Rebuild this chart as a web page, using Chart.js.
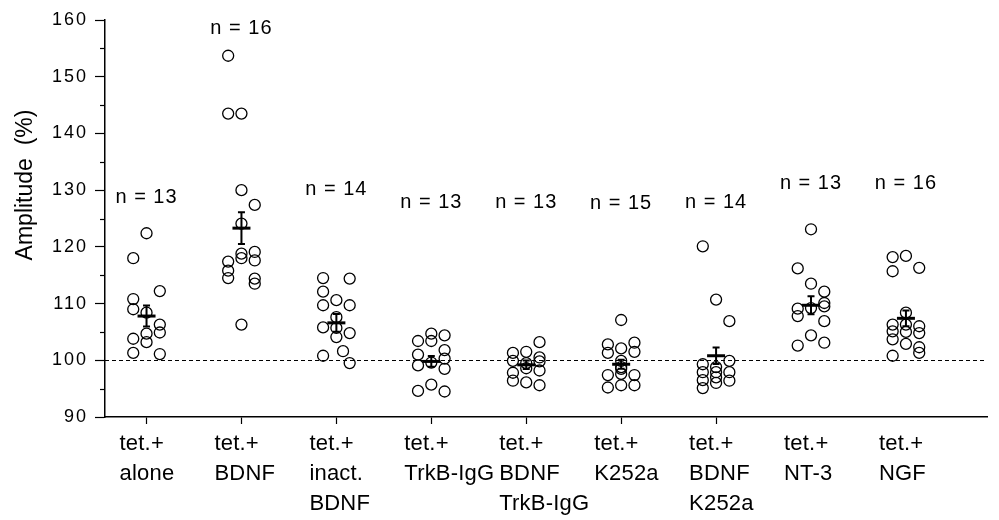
<!DOCTYPE html>
<html><head><meta charset="utf-8">
<script src="https://cdn.jsdelivr.net/npm/chart.js@4.4.1/dist/chart.umd.min.js"></script>
<style>html,body{margin:0;padding:0;background:#fff}</style>
</head><body>
<canvas id="c" width="999" height="520"></canvas>
<script>
// ---- data ----
const categories = [
  ["tet.+", "alone"],
  ["tet.+", "BDNF"],
  ["tet.+", "inact.", "BDNF"],
  ["tet.+", "TrkB-IgG"],
  ["tet.+", "BDNF", "TrkB-IgG"],
  ["tet.+", "K252a"],
  ["tet.+", "BDNF", "K252a"],
  ["tet.+", "NT-3"],
  ["tet.+", "NGF"]
];
const yTicks = [90, 100, 110, 120, 130, 140, 150, 160];

const valsAlone = [122.4, 118.0, 112.2, 110.8, 109.0, 108.4, 106.3, 104.9, 104.7, 103.8, 103.2, 101.3, 101.1];
const slotsAlone = [0, -1, 1, -1, -1, 0, 1, 1, 0, -1, 0, -1, 1];

const valsBDNF = [153.7, 143.5, 143.5, 130.0, 127.4, 124.1, 119.1, 118.8, 118.0, 117.6, 117.4, 115.8, 114.5, 114.4, 113.5, 106.3];
const slotsBDNF = [-1, -1, 0, 0, 1, 0, 1, 0, 0, 1, -1, -1, -1, 1, 1, 0];

const valsInact = [114.5, 114.4, 112.1, 110.6, 109.7, 109.7, 107.6, 105.8, 105.7, 104.1, 104.8, 101.6, 100.8, 99.5];
const slotsInact = [-1, 1, -1, 0, -1, 1, 0, -1, 0, 0, 1, 0.5, -1, 1];

const valsTrkB = [104.7, 104.4, 103.4, 103.4, 101.8, 101.0, 99.6, 100.3, 99.1, 98.5, 95.7, 94.6, 94.5];
const slotsTrkB = [0, 1, -1, 0, 1, -1, 0, 1, -1, 1, 0, -1, 1];

const valsBdnfTrkB = [103.2, 101.3, 101.5, 100.5, 99.9, 99.5, 99.8, 97.8, 96.4, 98.6, 96.1, 98.2, 95.6];
const slotsBdnfTrkB = [1, -1, 0, 1, -1, 0, 1, -1, -1, 0, 0, 1, 1];

const valsK252a = [107.1, 102.8, 101.3, 102.1, 103.1, 101.5, 98.8, 99.9, 98.5, 97.4, 95.2, 97.6, 95.6, 97.4, 95.6];
const slotsK252a = [0, -1, -1, 0, 1, 1, 0, 0, 0, -1, -1, 0, 0, 1, 1];

const valsBdnfK252a = [120.1, 110.7, 106.9, 99.9, 97.9, 96.4, 99.3, 97.9, 96.5, 95.1, 97.9, 97.0, 96.0, 98.8];
const slotsBdnfK252a = [-1, 0, 1, 1, 1, 1, -1, -1, -1, -1, 0, 0, 0, 0];

const valsNT3 = [123.1, 116.2, 113.5, 112.1, 110.1, 109.5, 109.2, 109.1, 107.8, 106.9, 104.4, 102.6, 103.1];
const slotsNT3 = [0, -1, 0, 1, 1, 1, 0, -1, -1, 1, 0, -1, 1];

const valsNGF = [118.2, 118.4, 115.7, 116.3, 108.4, 106.3, 106.3, 105.1, 105.0, 106.0, 104.8, 103.7, 102.9, 102.3, 101.3, 100.8];
const slotsNGF = [-1, 0, -1, 1, 0, -1, 0, -1, 0, 1, 1, -1, 0, 1, 1, -1];

const means = [107.8, 123.3, 106.6, 99.8, 99.2, 99.3, 100.8, 109.7, 107.4];
const sems  = [1.85, 2.8, 1.55, 0.95, 0.75, 0.8, 1.45, 1.6, 1.4];
const nLabelY = [128.7, 158.5, 130.2, 127.8, 127.8, 127.6, 127.8, 131.1, 131.1];

const groupVals  = [valsAlone, valsBDNF, valsInact, valsTrkB, valsBdnfTrkB, valsK252a, valsBdnfK252a, valsNT3, valsNGF];
const groupSlots = [slotsAlone, slotsBDNF, slotsInact, slotsTrkB, slotsBdnfTrkB, slotsK252a, slotsBdnfK252a, slotsNT3, slotsNGF];

// ---- build chart ----
const FONT = "'Liberation Sans', Arial, Helvetica, sans-serif";
const slotStep = 0.14;
const scatterPts = [];
groupVals.forEach((vals, i) => {
  vals.forEach((v, k) => scatterPts.push({ x: i + groupSlots[i][k] * slotStep, y: v }));
});
const meanPts = means.map((m, i) => ({ x: i, y: m }));

// give a scale's tick labels some letter spacing (the original type is loosely set)
function spacedLabels(spacing) {
  return (s) => {
    if (s._spacedWrapped) return;
    const orig = s.drawLabels.bind(s);
    s.drawLabels = function (ca) {
      this.ctx.save();
      this.ctx.letterSpacing = spacing;
      orig(ca);
      this.ctx.restore();
    };
    s._spacedWrapped = true;
  };
}

const extras = {
  id: 'extras',
  beforeDatasetsDraw(chart) {
    const { ctx, chartArea, scales } = chart;
    const y = scales.y.getPixelForValue(100);
    ctx.save();
    ctx.strokeStyle = '#000';
    ctx.lineWidth = 1;
    ctx.setLineDash([4, 3]);
    ctx.beginPath();
    ctx.moveTo(chartArea.left, Math.round(y) + 0.5);
    ctx.lineTo(chartArea.right, Math.round(y) + 0.5);
    ctx.stroke();
    ctx.restore();
  },
  afterDatasetsDraw(chart) {
    const { ctx, scales } = chart;
    ctx.save();
    ctx.strokeStyle = '#000';
    ctx.lineWidth = 2;
    means.forEach((m, i) => {
      const x = scales.x.getPixelForValue(i);
      const yt = scales.y.getPixelForValue(m + sems[i]);
      const yb = scales.y.getPixelForValue(m - sems[i]);
      ctx.beginPath();
      ctx.moveTo(x, yt); ctx.lineTo(x, yb);
      ctx.moveTo(x - 3.5, yt); ctx.lineTo(x + 3.5, yt);
      ctx.moveTo(x - 3.5, yb); ctx.lineTo(x + 3.5, yb);
      ctx.stroke();
    });
    ctx.restore();
  },
  afterDraw(chart) {
    const { ctx, chartArea, scales } = chart;
    ctx.save();
    // minor ticks on y axis
    ctx.strokeStyle = '#000';
    ctx.lineWidth = 1.2;
    for (let v = 95; v < 160; v += 10) {
      const y = Math.round(scales.y.getPixelForValue(v)) + 0.5;
      ctx.beginPath();
      ctx.moveTo(chartArea.left - 5, y);
      ctx.lineTo(chartArea.left, y);
      ctx.stroke();
    }
    // n = labels
    ctx.fillStyle = '#000';
    ctx.letterSpacing = '1px';
    ctx.font = "20px " + FONT;
    ctx.textAlign = 'center';
    ctx.textBaseline = 'middle';
    groupVals.forEach((vals, i) => {
      ctx.fillText('n = ' + vals.length, scales.x.getPixelForValue(i), scales.y.getPixelForValue(nLabelY[i]));
    });
    // y title
    ctx.letterSpacing = '0px';
    ctx.translate(26, 185);
    ctx.rotate(-Math.PI / 2);
    ctx.font = "23px " + FONT;
    ctx.fillText('Amplitude  (%)', 0, 0);
    ctx.restore();
  }
};

new Chart(document.getElementById('c'), {
  type: 'scatter',
  data: {
    datasets: [
      {
        label: 'mean',
        data: meanPts,
        pointStyle: 'line',
        pointRadius: 9,
        pointBorderWidth: 3,
        borderColor: '#000',
        backgroundColor: '#000'
      },
      {
        label: 'cells',
        data: scatterPts,
        pointStyle: 'circle',
        pointRadius: 5.5,
        pointBorderWidth: 1.3,
        borderColor: '#000',
        backgroundColor: 'rgba(0,0,0,0)'
      }
    ]
  },
  options: {
    responsive: false,
    animation: false,
    events: [],
    layout: { padding: { top: 20, right: 2, left: 0, bottom: 0 } },
    plugins: { legend: { display: false }, tooltip: { enabled: false } },
    scales: {
      x: {
        type: 'linear',
        min: -0.4375,
        max: 8.854,
        afterBuildTicks: (s) => { s.ticks = categories.map((_, i) => ({ value: i })); },
        afterFit: (s) => { s.height = 103; },
        afterUpdate: spacedLabels('0.2px'),
        grid: {
          drawOnChartArea: false,
          drawTicks: true,
          tickLength: 7,
          tickWidth: 1.2,
          tickColor: (c) => (c.index >= 7 ? 'rgba(0,0,0,0)' : '#000')
        },
        border: { display: true, color: '#000', width: 1.5 },
        ticks: {
          autoSkip: false,
          maxRotation: 0,
          minRotation: 0,
          align: 'start',
          labelOffset: -27,
          padding: 5,
          color: '#000',
          font: { family: FONT, size: 22, lineHeight: 1.36 },
          callback: (v) => categories[v]
        }
      },
      y: {
        type: 'linear',
        min: 90,
        max: 160,
        afterBuildTicks: (s) => { s.ticks = yTicks.map((v) => ({ value: v })); },
        afterFit: (s) => { s.width = 105; },
        afterUpdate: spacedLabels('2px'),
        grid: {
          drawOnChartArea: false,
          drawTicks: true,
          tickLength: 10,
          tickWidth: 1.2,
          tickColor: '#000'
        },
        border: { display: true, color: '#000', width: 1.5 },
        ticks: {
          padding: 7,
          color: '#000',
          font: { family: FONT, size: 18 },
          callback: (v) => String(v)
        }
      }
    }
  },
  plugins: [extras]
});
</script>
</body></html>
